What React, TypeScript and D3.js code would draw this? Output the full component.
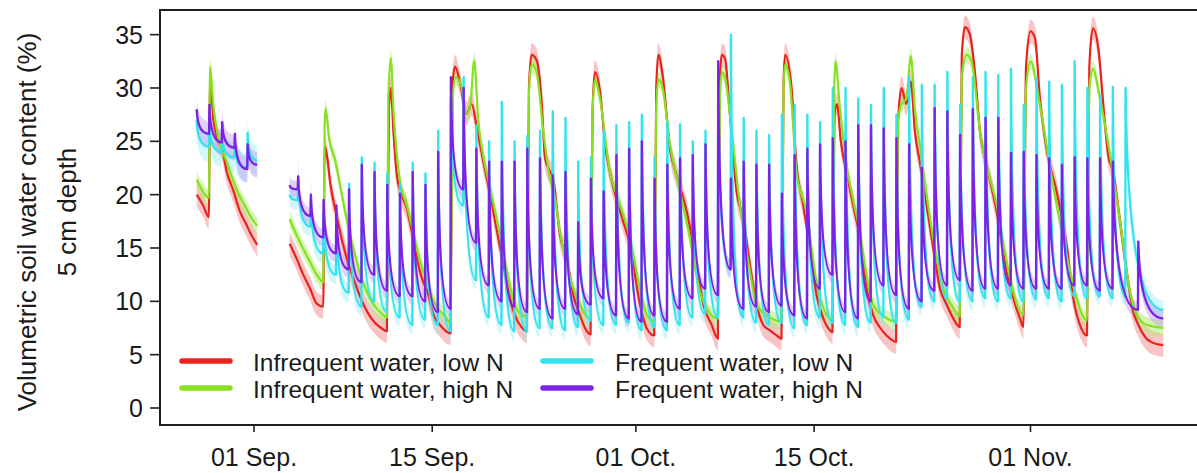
import React from "react";
import * as d3 from "d3";

const W = 1197;
const H = 473;

// ---- axes ----
const xTickDays = [0, 14, 30, 44, 61]; // days since 01 Sep
const xTickLabels = ["01 Sep.", "15 Sep.", "01 Oct.", "15 Oct.", "01 Nov."];
const yTickValues = [0, 5, 10, 15, 20, 25, 30, 35];
const legendLabels = [
  "Infrequent water, low N",
  "Infrequent water, high N",
  "Frequent water, low N",
  "Frequent water, high N",
];

// ---- Infrequent water, low N (red): [day since 01 Sep, %] ----
const redSeg1: [number, number][] = [
  [-4.5, 20.0], [-4.0, 19.0], [-3.55, 17.9], [-3.45, 30.6], [-3.2, 27.2], [-2.9, 25.3], [-2.5, 24.3],
  [-2.15, 22.2], [-1.6, 20.3], [-1.1, 18.4], [-0.6, 17.2], [-0.2, 16.2], [0.25, 15.3],
];
const redSeg2: [number, number][] = [
  [2.8, 15.4], [3.35, 14.0], [3.87, 12.5], [4.4, 11.2], [4.92, 9.8], [5.44, 9.5], [5.55, 24.6], [5.75, 23.5],
  [6.0, 21.0], [6.5, 18.0], [7.0, 15.3], [7.5, 13.2], [8.0, 11.5], [8.5, 10.0], [9.0, 8.8], [9.5, 8.0], [10.0, 7.5], [10.44, 7.2],
  [10.6, 28.0], [10.75, 30.0], [10.95, 26.0], [11.2, 22.0], [11.5, 20.3], [12.0, 18.7], [12.4, 16.5], [12.8, 14.0],
  [13.3, 11.8], [13.6, 11.0], [14.1, 8.7], [14.6, 7.8], [15.44, 7.0],
  [15.6, 30.5], [15.8, 32.0], [16.2, 30.4], [16.7, 27.6], [17.1, 28.5], [17.5, 26.3], [18.0, 23.2], [18.5, 20.3],
  [19.0, 17.1], [19.6, 13.4], [20.1, 10.3], [20.6, 8.4], [21.0, 7.6], [21.44, 7.2],
  [21.6, 30.0], [21.8, 33.1], [22.2, 32.6], [22.6, 28.7], [22.86, 23.4], [23.25, 22.2], [23.5, 21.5], [24.04, 16.2],
  [24.56, 14.0], [25.08, 10.6], [25.61, 8.7], [26.0, 7.5], [26.44, 6.9],
  [26.6, 28.0], [26.78, 31.5], [27.18, 29.7], [27.6, 24.5], [27.96, 22.1], [28.62, 19.0], [29.0, 17.5], [29.54, 15.3],
  [30.32, 9.7], [30.84, 7.5], [31.44, 6.8],
  [31.6, 30.0], [31.76, 33.1], [32.1, 31.2], [32.68, 24.3], [33.2, 21.8], [34.0, 18.4], [34.77, 13.4], [35.3, 9.7],
  [35.95, 7.8], [36.44, 6.5],
  [36.6, 31.0], [36.75, 33.1], [37.0, 32.8], [37.39, 27.5], [37.91, 20.3], [38.43, 17.8], [38.96, 13.4], [39.48, 9.7],
  [40.0, 7.8], [40.5, 7.3], [41.05, 6.8], [41.44, 6.5],
  [41.6, 30.5], [41.72, 33.1], [42.23, 30.0], [42.62, 22.8], [43.15, 19.0], [43.67, 15.0], [44.19, 10.6], [44.72, 8.4],
  [45.24, 7.3], [45.44, 7.1],
  [45.6, 27.5], [45.8, 28.5], [46.1, 25.0], [46.55, 22.1], [47.07, 19.0], [47.6, 15.9], [48.12, 11.2], [48.64, 8.7],
  [49.2, 7.5], [49.69, 6.8], [50.44, 6.2],
  [50.6, 27.0], [50.87, 30.0], [51.25, 28.5], [51.6, 30.6], [51.92, 25.9], [52.3, 23.1], [52.84, 19.0], [53.36, 15.0],
  [53.89, 11.2], [54.41, 9.7], [54.93, 8.4], [55.44, 7.6],
  [55.6, 33.0], [55.85, 35.7], [56.24, 35.0], [56.63, 31.5], [57.03, 25.9], [57.55, 22.8], [58.34, 18.4], [59.12, 12.8],
  [59.65, 10.3], [60.17, 8.4], [60.44, 7.6],
  [60.65, 32.0], [61.0, 35.3], [61.35, 34.7], [61.74, 29.0], [62.26, 24.3], [63.05, 20.3], [63.84, 15.3], [64.36, 10.3],
  [64.88, 7.8], [65.44, 6.8],
  [65.62, 32.0], [65.9, 35.6], [66.33, 33.7], [66.72, 28.4], [67.1, 23.7], [67.5, 22.1], [68.03, 17.5], [68.55, 12.8],
  [69.08, 9.0], [69.47, 7.8], [70.12, 6.5], [70.91, 6.0], [71.43, 5.9],
];

// ---- Infrequent water, high N (green) ----
const greenSeg1: [number, number][] = [
  [-4.5, 21.4], [-4.0, 20.3], [-3.55, 19.7], [-3.45, 32.0], [-3.2, 28.4], [-2.8, 25.3], [-2.15, 23.1],
  [-1.6, 21.2], [-1.1, 19.8], [-0.6, 18.7], [-0.2, 17.8], [0.25, 17.1],
];
const greenSeg2: [number, number][] = [
  [2.8, 17.7], [3.35, 16.2], [3.87, 14.9], [4.4, 13.7], [4.92, 12.5], [5.44, 11.8], [5.55, 26.5], [5.62, 28.1],
  [5.9, 25.3], [6.4, 23.1], [6.9, 20.0], [7.4, 17.0], [7.9, 14.5], [8.4, 12.3], [8.9, 10.8], [9.4, 9.7], [9.9, 9.0], [10.44, 8.5],
  [10.55, 29.0], [10.75, 32.8], [10.95, 28.0], [11.2, 24.0], [11.5, 21.0], [12.0, 19.0], [12.5, 16.5], [13.0, 14.0],
  [13.5, 12.1], [14.0, 10.3], [14.5, 9.3], [15.0, 8.6], [15.44, 8.0],
  [15.6, 29.0], [15.85, 31.0], [16.3, 30.1], [16.7, 27.6], [17.0, 28.5], [17.3, 32.6], [17.6, 27.2], [18.0, 23.7],
  [18.5, 20.9], [19.0, 18.1], [19.6, 14.6], [20.1, 11.5], [20.6, 9.4], [21.0, 8.8], [21.44, 8.5],
  [21.6, 29.5], [21.8, 32.2], [22.2, 31.5], [22.73, 25.9], [23.25, 21.5], [23.6, 20.0], [24.04, 16.5], [24.82, 12.2],
  [25.61, 9.7], [26.0, 8.8], [26.44, 8.3],
  [26.6, 28.0], [26.8, 30.8], [27.18, 29.0], [27.96, 22.1], [28.62, 19.5], [29.54, 15.9], [30.32, 11.2], [30.84, 8.8], [31.44, 8.1],
  [31.6, 28.0], [31.76, 30.8], [32.1, 30.0], [32.68, 24.7], [33.46, 20.3], [34.25, 15.9], [35.03, 10.9], [35.8, 8.9], [36.44, 8.4],
  [36.6, 29.0], [36.75, 31.5], [37.0, 31.0], [37.39, 27.5], [38.17, 19.0], [38.96, 12.8], [39.48, 9.7], [40.27, 8.7], [41.44, 8.1],
  [41.6, 30.0], [41.72, 32.2], [42.1, 30.5], [42.62, 22.1], [43.4, 18.4], [44.19, 11.8], [45.24, 8.4], [45.44, 8.3],
  [45.58, 30.0], [45.68, 32.5], [46.0, 28.5], [46.55, 22.8], [47.07, 19.5], [47.6, 16.5], [48.12, 12.5], [48.64, 9.7],
  [49.5, 8.6], [50.44, 8.1],
  [50.6, 27.0], [50.87, 28.5], [51.25, 29.0], [51.6, 33.0], [51.92, 28.0], [52.3, 24.7], [53.36, 15.9], [54.15, 11.2],
  [54.93, 9.4], [55.44, 8.6],
  [55.6, 31.0], [55.98, 33.1], [56.37, 32.5], [57.03, 25.9], [58.34, 19.0], [59.39, 12.2], [60.0, 9.5], [60.44, 8.7],
  [60.65, 30.0], [61.0, 32.5], [61.74, 28.4], [62.5, 22.8], [63.57, 15.9], [64.62, 10.3], [65.0, 8.9], [65.44, 8.2],
  [65.62, 30.0], [65.9, 31.8], [66.46, 29.0], [67.11, 24.7], [68.03, 17.5], [68.81, 10.9], [69.34, 8.7], [70.12, 7.8], [71.43, 7.5],
];

// ---- Frequent water (daily events): event day, peak value, value just before the event ----
const freqSeg1Days = [-3.5, -2.5, -1.5, -0.5];
const purpleSeg1Start: [number, number] = [-4.5, 28.0];
const purpleSeg1Peak = [28.4, 26.8, 25.7, 24.7];
const purpleSeg1Low = [25.7, 24.9, 24.4, 22.4];
const purpleSeg1End: [number, number] = [0.25, 22.8];
const cyanSeg1Start: [number, number] = [-4.5, 27.0];
const cyanSeg1Peak = [26.5, 25.5, 24.5, 25.8];
const cyanSeg1Low = [24.5, 24.0, 23.5, 22.5];
const cyanSeg1End: [number, number] = [0.25, 23.2];

const purpleStart: [number, number] = [2.8, 20.9];
const purpleDays = [
  3.47, 4.47, 5.47, 6.47, 7.47, 8.47, 9.47, 10.47, 11.47, 12.47, 13.47, 14.47, 15.47, 16.47, 17.47, 18.47, 19.47,
  20.47, 21.47, 22.47, 23.47, 24.47, 25.47, 26.47, 27.47, 28.47, 29.47, 30.47, 31.47, 32.47, 33.47, 34.47, 35.47,
  36.47, 37.47, 38.47, 39.47, 40.47, 41.47, 42.47, 43.47, 44.47, 45.47, 46.47, 47.47, 48.47, 49.47, 50.47, 51.47,
  52.47, 53.47, 54.47, 55.47, 56.47, 57.47, 58.47, 59.47, 60.47, 61.47, 62.47, 63.47, 64.47, 65.47, 66.47, 67.47, 69.47,
];
const purplePeak = [
  21.7, 20.0, 19.5, 19.0, 20.5, 22.8, 22.1, 20.9, 20.1, 22.1,
  20.9, 24.0, 31.0, 30.0, 24.3, 23.1, 23.1, 23.1, 24.3, 23.4,
  21.8, 22.1, 17.4, 21.5, 20.3, 23.7, 24.3, 25.0, 21.5, 22.8,
  23.4, 23.7, 24.7, 32.5, 21.5, 23.1, 22.8, 22.8, 20.1, 23.7,
  24.3, 24.7, 25.3, 25.0, 26.5, 26.5, 26.2, 25.3, 24.7, 22.5,
  28.1, 27.8, 25.6, 28.0, 27.2, 27.2, 23.9, 24.0, 23.7, 23.4,
  22.8, 23.5, 23.4, 23.4, 23.1, 15.6,
];
const purpleLow = [
  20.5, 18.0, 16.0, 14.5, 13.0, 11.8, 12.5, 11.0, 10.5, 10.5,
  10.0, 9.0, 9.3, 20.5, 15.5, 11.5, 10.0, 9.5, 9.0, 9.3,
  8.4, 9.3, 8.8, 9.7, 10.3, 8.7, 8.4, 8.1, 8.7, 8.1,
  9.3, 10.3, 11.2, 10.6, 13.0, 9.3, 9.5, 9.0, 9.6, 8.7,
  8.4, 11.2, 12.5, 9.0, 8.4, 10.0, 11.5, 10.6, 9.3, 10.0,
  11.0, 11.5, 12.0, 11.0, 11.2, 11.2, 11.5, 11.2, 11.2, 11.2,
  11.2, 11.5, 11.5, 11.0, 11.2, 9.2,
];
const purpleEnd: [number, number] = [71.43, 8.4];

const cyanStart: [number, number] = [2.8, 20.0];
const cyanDays = [
  3.47, 4.47, 5.47, 6.47, 7.47, 8.47, 9.47, 10.47, 11.47, 12.47, 13.47, 14.47, 15.47, 16.47, 17.47, 18.47, 19.47,
  20.47, 21.47, 22.47, 23.47, 24.47, 25.47, 26.47, 27.47, 28.47, 29.47, 30.47, 31.47, 32.47, 33.47, 34.47, 35.47,
  36.47, 37.47, 38.47, 39.47, 40.47, 41.47, 42.47, 43.47, 44.47, 45.47, 46.47, 47.47, 48.47, 49.47, 50.47, 51.47,
  52.47, 53.47, 54.47, 55.47, 56.47, 57.47, 58.47, 59.47, 60.47, 61.47, 62.47, 63.47, 64.47, 65.47, 66.47, 67.47, 68.47,
];
const cyanPeak = [
  21.5, 19.5, 18.5, 18.0, 21.0, 23.5, 23.0, 22.0, 21.0, 23.0,
  22.0, 26.0, 29.0, 31.0, 26.5, 25.0, 28.7, 25.0, 25.5, 26.0,
  27.8, 27.2, 23.1, 23.5, 26.0, 26.5, 26.8, 27.5, 23.5, 26.8,
  26.6, 25.0, 26.0, 30.0, 35.0, 27.2, 26.0, 25.6, 27.5, 28.4,
  27.5, 26.8, 30.0, 30.0, 29.0, 28.4, 30.0, 27.5, 31.0, 30.3,
  30.3, 31.5, 28.4, 31.0, 31.5, 31.2, 31.8, 28.4, 30.9, 30.6,
  30.3, 32.5, 30.0, 29.3, 30.1, 30.0,
];
const cyanLow = [
  19.5, 17.0, 14.5, 12.5, 10.8, 9.5, 10.0, 9.0, 8.5, 7.8,
  8.3, 7.8, 7.2, 19.0, 12.0, 8.5, 7.8, 7.2, 7.2, 7.5,
  7.5, 7.3, 7.6, 8.2, 7.8, 7.8, 8.0, 7.3, 7.6, 7.3,
  7.8, 8.5, 8.8, 8.5, 13.0, 8.5, 8.0, 7.8, 8.0, 7.5,
  7.8, 8.5, 8.0, 7.8, 7.6, 8.0, 8.5, 8.0, 8.3, 9.5,
  10.0, 10.2, 10.0, 10.0, 10.3, 10.0, 10.3, 10.0, 10.2, 10.3,
  10.0, 10.5, 10.3, 10.5, 10.3, 10.5,
];
const cyanEnd: [number, number] = [71.43, 9.2];

// standard-error half widths of the shaded bands (%)
const redSE = 1.1;
const greenSE = 0.75;
const cyanSE = [0.9, 2.2, 1.4]; // [normal, at peaks, first period]
const purpleSE = [0.8, 1.3, 1.2];

type P = { d: number; v: number; pk: boolean };

// Curve: rises are straight, decays fall fast near the peak end and level off.
class DecayCurve {
  _c: any;
  _line = NaN;
  _point = 0;
  _x0 = 0;
  _y0 = 0;
  constructor(c: any) {
    this._c = c;
  }
  areaStart() {
    this._line = 0;
  }
  areaEnd() {
    this._line = NaN;
  }
  lineStart() {
    this._point = 0;
  }
  lineEnd() {
    if (this._line || (this._line !== 0 && this._point === 1)) this._c.closePath();
    this._line = 1 - this._line;
  }
  point(x: number, y: number) {
    x = +x;
    y = +y;
    if (this._point === 0) {
      this._point = 1;
      if (this._line) this._c.lineTo(x, y);
      else this._c.moveTo(x, y);
    } else {
      this._point = 2;
      if (Math.abs(x - this._x0) > 4) {
        let px, ox, oy;
        if (y < this._y0) {
          px = x; ox = this._x0; oy = this._y0;
        } else {
          px = this._x0; ox = x; oy = y;
        }
        const cx = px + (ox - px) * 0.06;
        this._c.quadraticCurveTo(cx, oy, x, y);
      } else this._c.lineTo(x, y);
    }
    this._x0 = x;
    this._y0 = y;
  }
}
const curveDecay: any = (c: any) => new DecayCurve(c);

function buildFreq(start: [number, number], days: number[], peaks: number[], lows: number[], end: [number, number]): P[] {
  const pts: P[] = [{ d: start[0], v: start[1], pk: false }];
  days.forEach((d, i) => {
    pts.push({ d: d - 0.03, v: lows[i], pk: false });
    pts.push({ d, v: peaks[i], pk: true });
  });
  pts.push({ d: end[0], v: end[1], pk: false });
  return pts;
}
const toPts = (arr: [number, number][]): P[] => arr.map(([d, v]) => ({ d, v, pk: false }));

const COLORS = {
  red: "#e8231c",
  green: "#86e21e",
  cyan: "#35e3ef",
  purple: "#7b22e6",
};

export default function App() {
  const x = d3.scaleLinear().domain([0, 61]).range([254, 1030.5]);
  const y = d3.scaleLinear().domain([0, 35]).range([408, 408 - 35 * 10.667]);

  const line = (curve: any) =>
    d3.line<P>().x((p) => x(p.d)).y((p) => y(p.v)).curve(curve);
  const area = (curve: any, lo: number, hi: number) =>
    d3
      .area<P>()
      .x((p) => x(p.d))
      .y0((p) => y(p.v - (p.pk ? hi : lo)))
      .y1((p) => y(p.v + (p.pk ? hi : lo)))
      .curve(curve);

  const mono = d3.curveMonotoneX;
  const series = [
    {
      color: COLORS.red,
      band: "rgba(240,115,115,0.42)",
      width: 2.2,
      segs: [
        { pts: toPts(redSeg1), curve: mono, lo: redSE, hi: redSE },
        { pts: toPts(redSeg2), curve: mono, lo: redSE, hi: redSE },
      ],
    },
    {
      color: COLORS.green,
      band: "rgba(175,235,105,0.5)",
      width: 2.2,
      segs: [
        { pts: toPts(greenSeg1), curve: mono, lo: greenSE, hi: greenSE },
        { pts: toPts(greenSeg2), curve: mono, lo: greenSE, hi: greenSE },
      ],
    },
    {
      color: COLORS.cyan,
      band: "rgba(150,238,245,0.45)",
      width: 2.4,
      segs: [
        { pts: buildFreq(cyanSeg1Start, freqSeg1Days, cyanSeg1Peak, cyanSeg1Low, cyanSeg1End), curve: curveDecay, lo: cyanSE[2], hi: cyanSE[2] },
        { pts: buildFreq(cyanStart, cyanDays, cyanPeak, cyanLow, cyanEnd), curve: curveDecay, lo: cyanSE[0], hi: cyanSE[1] },
      ],
    },
    {
      color: COLORS.purple,
      band: "rgba(185,145,240,0.42)",
      width: 2.4,
      segs: [
        { pts: buildFreq(purpleSeg1Start, freqSeg1Days, purpleSeg1Peak, purpleSeg1Low, purpleSeg1End), curve: curveDecay, lo: purpleSE[2], hi: purpleSE[2] },
        { pts: buildFreq(purpleStart, purpleDays, purplePeak, purpleLow, purpleEnd), curve: curveDecay, lo: purpleSE[0], hi: purpleSE[1] },
      ],
    },
  ];

  const font = "'Liberation Sans', Arial, Helvetica, sans-serif";
  const left = 160, top = 10, bottom = 425;
  const legendColors = [COLORS.red, COLORS.green, COLORS.cyan, COLORS.purple];
  const legendPos = [
    { lx: 182, tx: 253, y: 361 },
    { lx: 182, tx: 253, y: 388 },
    { lx: 543, tx: 615, y: 361 },
    { lx: 543, tx: 615, y: 388 },
  ];

  return (
    <svg
      width={W}
      height={H}
      style={{ position: "absolute", left: 0, top: 0, background: "#fff" }}
      fontFamily={font}
    >
      <rect x={0} y={0} width={W} height={H} fill="#fff" />
      <defs>
        <clipPath id="plotclip">
          <rect x={left + 1} y={top + 1} width={W - left} height={bottom - top - 2} />
        </clipPath>
      </defs>
      <g clipPath="url(#plotclip)">
        {series.map((s, i) =>
          s.segs.map((seg, j) => (
            <path key={`b${i}-${j}`} d={area(seg.curve, seg.lo, seg.hi)(seg.pts) || ""} fill={s.band} stroke="none" />
          ))
        )}
        {series.map((s, i) =>
          s.segs.map((seg, j) => (
            <path
              key={`l${i}-${j}`}
              d={line(seg.curve)(seg.pts) || ""}
              fill="none"
              stroke={s.color}
              strokeWidth={s.width}
              strokeLinejoin="round"
            />
          ))
        )}
      </g>

      {/* frame */}
      <path d={`M${W + 2},${top} H${left} V${bottom} H${W + 2}`} fill="none" stroke="#1e1e1e" strokeWidth={2} />

      {/* y axis */}
      {yTickValues.map((v) => (
        <g key={`y${v}`}>
          <line x1={left - 10} x2={left} y1={y(v)} y2={y(v)} stroke="#1e1e1e" strokeWidth={1.6} />
          <text x={143} y={y(v)} textAnchor="end" dominantBaseline="central" fontSize={25} fill="#1a1a1a">
            {v}
          </text>
        </g>
      ))}
      {/* x axis */}
      {xTickDays.map((d, i) => (
        <g key={`x${d}`}>
          <line x1={x(d)} x2={x(d)} y1={bottom} y2={bottom + 7} stroke="#1e1e1e" strokeWidth={1.6} />
          <text x={x(d)} y={466} textAnchor="middle" fontSize={25} fill="#1a1a1a">
            {xTickLabels[i]}
          </text>
        </g>
      ))}

      {/* y titles */}
      <text
        transform={`translate(27,222) rotate(-90)`}
        textAnchor="middle"
        dominantBaseline="central"
        fontSize={26}
        fill="#1a1a1a"
      >
        Volumetric soil water content (%)
      </text>
      <text
        transform={`translate(67,212) rotate(-90)`}
        textAnchor="middle"
        dominantBaseline="central"
        fontSize={26}
        fill="#1a1a1a"
      >
        5 cm depth
      </text>

      {/* legend */}
      {legendLabels.map((lab, i) => (
        <g key={`lg${i}`}>
          <line
            x1={legendPos[i].lx}
            x2={legendPos[i].lx + 48}
            y1={legendPos[i].y}
            y2={legendPos[i].y}
            stroke={legendColors[i]}
            strokeWidth={5.5}
            strokeLinecap="round"
          />
          <text x={legendPos[i].tx} y={legendPos[i].y + 1} dominantBaseline="central" fontSize={24.5} fill="#1a1a1a">
            {lab}
          </text>
        </g>
      ))}
    </svg>
  );
}
